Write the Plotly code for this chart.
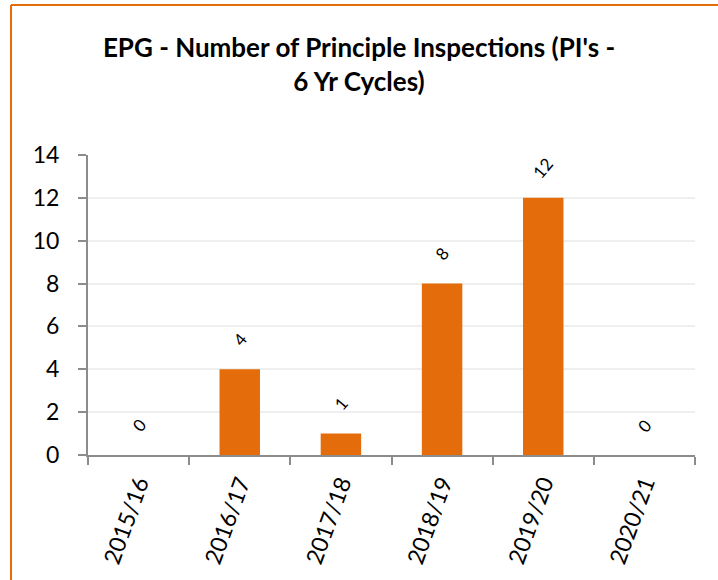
import plotly.graph_objects as go

categories = ["2015/16", "2016/17", "2017/18", "2018/19", "2019/20", "2020/21"]
values = [0, 4, 1, 8, 12, 0]
y_ticks = [0, 2, 4, 6, 8, 10, 12, 14]

BAR = "#E46C0A"
FONT = "Lato, 'Open Sans', sans-serif"

W, H = 718, 580
L, R, T, B = 88, 23, 155, 125
pw, ph = W - L - R, H - T - B

def px_x(p):
    return (p - L) / pw

def px_y(p):
    return (H - B - p) / ph

fig = go.Figure()
fig.add_trace(go.Bar(x=categories, y=values, marker=dict(color=BAR, line=dict(width=0)),
                     width=0.4, hoverinfo="x+y"))

for c, v in zip(categories, values):
    fig.add_annotation(x=c, y=v, text=str(v), showarrow=False, yshift=30, textangle=-50,
                       font=dict(family=FONT, size=17, color="#000000"))

fig.update_layout(
    width=W, height=H,
    margin=dict(l=L, r=R, t=T, b=B, autoexpand=False),
    paper_bgcolor="white", plot_bgcolor="white",
    showlegend=False,
    title=dict(text="<b>EPG - Number of Principle Inspections (PI's -<br>6 Yr Cycles)</b>",
               x=0.5, xanchor="center", y=1 - 57 / H, yanchor="top",
               font=dict(family=FONT, size=26, color="#000000")),
    xaxis=dict(type="category", range=[-0.5, 5.5], showline=True, linecolor="#8C8C8C", linewidth=2,
               ticks="outside", ticklen=8, tickcolor="#8C8C8C", tickwidth=2, tickson="boundaries",
               tickangle=-70, tickfont=dict(family=FONT, size=23, color="#000000"),
               ticklabelstandoff=4,
               showgrid=False, zeroline=False, automargin=False),
    yaxis=dict(range=[0, 14], tickvals=y_ticks, showline=True, linecolor="#8C8C8C", linewidth=2,
               ticks="outside", ticklen=8, tickcolor="#8C8C8C", tickwidth=2,
               ticklabelstandoff=14,
               tickfont=dict(family=FONT, size=23, color="#000000"),
               showgrid=True, gridcolor="#EFEFEF", gridwidth=2, zeroline=False, automargin=False),
    shapes=[
        dict(type="line", xref="paper", yref="paper", x0=px_x(11), x1=px_x(718), y0=px_y(5), y1=px_y(5),
             line=dict(color=BAR, width=2)),
        dict(type="line", xref="paper", yref="paper", x0=px_x(11), x1=px_x(11), y0=px_y(5), y1=px_y(580),
             line=dict(color=BAR, width=2)),
    ],
)

fig.write_html("out.html", config={"displayModeBar": False},
               post_script="document.body.style.margin='0';document.body.style.overflow='hidden';")
